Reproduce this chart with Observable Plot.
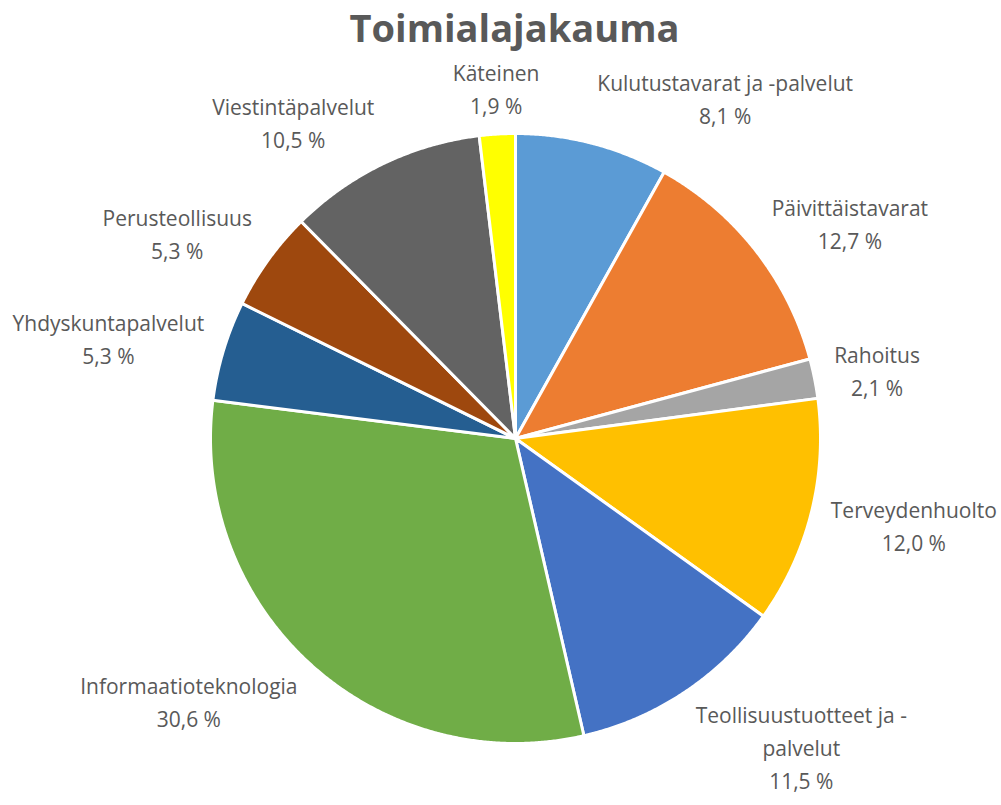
<!DOCTYPE html>
<html>
<head>
<meta charset="utf-8">
<script src="https://cdn.jsdelivr.net/npm/d3@7"></script>
<script src="https://cdn.jsdelivr.net/npm/@observablehq/plot@0.6"></script>
<style>
  html, body { margin: 0; padding: 0; background: #fff; }
  #title { height: 60px; width: 1001px; box-sizing: border-box; padding-left: 28px; text-align: center;
    font-family: "Open Sans", sans-serif; font-weight: 700; font-size: 38px; color: #595959; line-height: 54px; }
</style>
</head>
<body>
<div id="title">Toimialajakauma</div>
<div id="chart"></div>
<script>
// Data (clockwise from 12 o'clock)
const categories = ["Kulutustavarat ja -palvelut", "Päivittäistavarat", "Rahoitus", "Terveydenhuolto",
  "Teollisuustuotteet ja -\npalvelut", "Informaatioteknologia", "Yhdyskuntapalvelut", "Perusteollisuus",
  "Viestintäpalvelut", "Käteinen"];
const shares = [8.1, 12.7, 2.1, 12.0, 11.5, 30.6, 5.3, 5.3, 10.5, 1.9];
const colors = ["#5B9BD5", "#ED7D31", "#A5A5A5", "#FFC000", "#4472C4", "#70AD47", "#255E91", "#9E480E", "#636363", "#FFFF00"];

const W = 1001, H = 745, cx = 515, cy = 378, R = 305;
const fontSize = 21, lineH = 33, gap = 20;
const fontFamily = "Open Sans";
const fmt = v => v.toFixed(1).replace(".", ",") + " %";

const ctx = document.createElement("canvas").getContext("2d");
ctx.font = `${fontSize}px "${fontFamily}"`;
const measure = s => ctx.measureText(s).width;

const pie = d3.pie().sort(null).value(d => d.share)(categories.map((c, i) => ({cat: c, share: shares[i]})));

// slice polygons in unit coordinates
const pts = [];
pie.forEach(p => {
  const cat = p.data.cat;
  pts.push({cat, x: 0, y: 0});
  const n = Math.max(2, Math.ceil((p.endAngle - p.startAngle) / 0.005));
  for (let k = 0; k <= n; k++) {
    const a = p.startAngle + (p.endAngle - p.startAngle) * k / n;
    pts.push({cat, x: Math.sin(a), y: Math.cos(a)});
  }
  pts.push({cat, x: 0, y: 0});
});

// label boxes placed just outside the pie at each slice's mid-angle
const labels = pie.map(p => {
  const a = (p.startAngle + p.endAngle) / 2;
  const text = p.data.cat + "\n" + fmt(p.data.share);
  const lines = text.split("\n");
  const w = d3.max(lines, measure);
  const h = lines.length * lineH - 11;
  const rl = (R + gap) / R;
  const s = Math.sin(a), c = Math.cos(a);
  const shift = Math.abs(s) < 0.15 ? 0 : (s > 0 ? w / 2 : -w / 2);
  return {text, x: rl * s + shift / R, y: rl * c + c * (h / 2) / R};
});

const chart = Plot.plot({
  width: W, height: H, margin: 0,
  x: {domain: [-1, 1], range: [cx - R, cx + R], axis: null},
  y: {domain: [-1, 1], range: [cy + R, cy - R], axis: null},
  color: {domain: categories, range: colors, type: "ordinal"},
  style: {background: "white"},
  marks: [
    Plot.line(pts, {x: "x", y: "y", z: "cat", fill: "cat", stroke: "white", strokeWidth: 3, strokeLinejoin: "round", curve: "linear"}),
    Plot.text(labels, {x: "x", y: "y", text: "text", fontSize, lineHeight: lineH / fontSize, lineAnchor: "middle",
      textAnchor: "middle", fill: "#595959", fontFamily})
  ]
});
document.getElementById("chart").appendChild(chart);
</script>
</body>
</html>
